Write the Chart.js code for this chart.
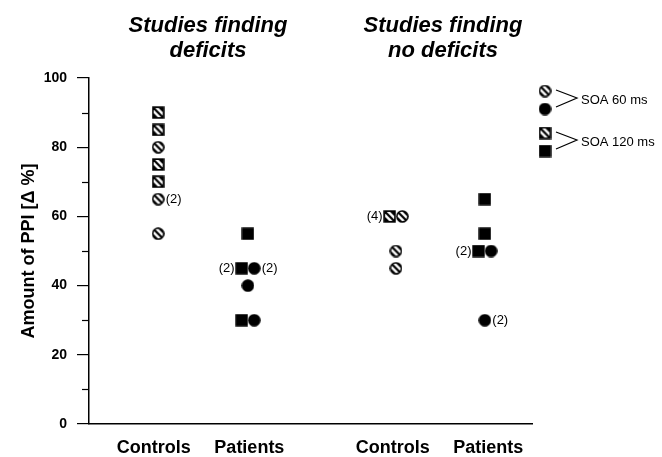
<!DOCTYPE html>
<html><head><meta charset="utf-8">
<script src="https://cdn.jsdelivr.net/npm/chart.js@4.4.1/dist/chart.umd.min.js"></script>
<style>html,body{margin:0;padding:0;background:#fff;} canvas{display:block;}</style>
</head><body>
<canvas id="c" width="662" height="457"></canvas>
<script>
// ---------- data ----------
const categories = ['Controls', 'Patients', 'Controls', 'Patients'];
const categoryX = [1, 2, 3.5, 4.5];
const panelTitles = [['Studies finding', 'deficits'], ['Studies finding', 'no deficits']];
const yTickValues = [0, 20, 40, 60, 80, 100];
const yMinorTicks = [10, 30, 50, 70, 90];
const legendLabels = ['SOA 60 ms', 'SOA 120 ms'];
const yAxisTitle = 'Amount of PPI [\u0394 %]';

// Studies finding deficits (values in Δ %, N = number of studies)
const defCtrl60 = [80, 65, 55];
const defCtrl60N = [1, 2, 1];
const defCtrl120 = [90, 85, 75, 70];
const defCtrl120N = [1, 1, 1, 1];
const defPat60 = [45, 40, 30];
const defPat60N = [2, 1, 1];
const defPat120 = [55, 45, 30];
const defPat120N = [1, 2, 1];

// Studies finding no deficits
const noCtrl60 = [60, 50, 45];
const noCtrl60N = [1, 1, 1];
const noCtrl120 = [60];
const noCtrl120N = [4];
const noPat60 = [50, 30];
const noPat60N = [1, 2];
const noPat120 = [65, 55, 50];
const noPat120N = [1, 1, 2];

// ---------- layout constants ----------
const columnShift = [0.045, -0.015, 0.035, -0.035];
const pairShift = 0.066;
const titleCenters = [1.567, 4.027];
const FONT = "'Liberation Sans', Arial, Helvetica, sans-serif";

function pts(group, values, counts, isSquare, otherValues) {
  return values.map((v, i) => {
    const paired = otherValues.includes(v);
    const x = categoryX[group] + columnShift[group] + (paired ? (isSquare ? -pairShift : pairShift) : 0);
    return { x: x, y: v, n: counts[i] };
  });
}

function makeMarker(shape, hatched, size) {
  const c = document.createElement('canvas');
  c.width = size; c.height = size;
  const g = c.getContext('2d');
  const h = size / 2;
  function path(inset) {
    g.beginPath();
    if (shape === 'circle') g.arc(h, h, h - 0.2 - inset, 0, Math.PI * 2);
    else g.rect(0.3 + inset, 0.3 + inset, size - 0.6 - 2 * inset, size - 0.6 - 2 * inset);
  }
  g.fillStyle = '#000';
  path(0); g.fill();
  if (hatched) {
    g.save();
    path(1.6); g.clip();
    g.strokeStyle = '#fff';
    g.lineWidth = 2.4;
    [-3.3, 3.3].forEach(cOff => {
      g.beginPath();
      g.moveTo(cOff - 2, -2);
      g.lineTo(cOff + size + 2, size + 2);
      g.stroke();
    });
    g.restore();
  }
  return c;
}

const mHatchCircle = makeMarker('circle', true, 13);
const mHatchSquare = makeMarker('square', true, 13);
const mCircle = makeMarker('circle', false, 13);
const mSquare = makeMarker('square', false, 13);

const datasets = [
  { label: 'Controls SOA 60 ms', square: false, pointStyle: mHatchCircle,
    data: pts(0, defCtrl60, defCtrl60N, false, defCtrl120).concat(pts(2, noCtrl60, noCtrl60N, false, noCtrl120)) },
  { label: 'Controls SOA 120 ms', square: true, pointStyle: mHatchSquare,
    data: pts(0, defCtrl120, defCtrl120N, true, defCtrl60).concat(pts(2, noCtrl120, noCtrl120N, true, noCtrl60)) },
  { label: 'Patients SOA 60 ms', square: false, pointStyle: mCircle,
    data: pts(1, defPat60, defPat60N, false, defPat120).concat(pts(3, noPat60, noPat60N, false, noPat120)) },
  { label: 'Patients SOA 120 ms', square: true, pointStyle: mSquare,
    data: pts(1, defPat120, defPat120N, true, defPat60).concat(pts(3, noPat120, noPat120N, true, noPat60)) }
].map(d => Object.assign(d, { pointRadius: 6.5, pointHoverRadius: 6.5, showLine: false }));

const decor = {
  id: 'decor',
  beforeDraw(chart) {
    const ctx = chart.ctx;
    ctx.save();
    ctx.fillStyle = '#fff';
    ctx.fillRect(0, 0, chart.width, chart.height);
    ctx.restore();
  },
  afterDraw(chart) {
    const ctx = chart.ctx;
    const xs = chart.scales.x, ys = chart.scales.y;
    ctx.save();
    // minor ticks
    ctx.strokeStyle = '#000';
    ctx.lineWidth = 1.2;
    yMinorTicks.forEach(v => {
      const y = Math.round(ys.getPixelForValue(v)) + 0.5;
      ctx.beginPath();
      ctx.moveTo(xs.left - 7, y);
      ctx.lineTo(xs.left, y);
      ctx.stroke();
    });
    // panel titles
    ctx.fillStyle = '#000';
    ctx.textAlign = 'center';
    ctx.textBaseline = 'alphabetic';
    ctx.font = 'italic bold 22px ' + FONT;
    panelTitles.forEach((lines, i) => {
      const x = xs.getPixelForValue(titleCenters[i]);
      lines.forEach((t, j) => ctx.fillText(t, x, 32 + j * 25));
    });
    // count labels
    ctx.font = '13px ' + FONT;
    ctx.textBaseline = 'middle';
    chart.data.datasets.forEach((ds, di) => {
      const meta = chart.getDatasetMeta(di);
      meta.data.forEach((el, i) => {
        const n = ds.data[i].n;
        if (n > 1) {
          if (ds.square) { ctx.textAlign = 'right'; ctx.fillText('(' + n + ')', el.x - 7, el.y + 0.5); }
          else { ctx.textAlign = 'left'; ctx.fillText('(' + n + ')', el.x + 7.5, el.y + 0.5); }
        }
      });
    });
    // legend
    const lx = 545;
    const rows = [
      { top: mHatchCircle, bottom: mCircle, y1: 91, y2: 109, tip: 98, text: 104 },
      { top: mHatchSquare, bottom: mSquare, y1: 133, y2: 151, tip: 140, text: 146 }
    ];
    ctx.font = '13px ' + FONT;
    ctx.textAlign = 'left';
    ctx.textBaseline = 'alphabetic';
    ctx.lineWidth = 1.2;
    rows.forEach((r, i) => {
      ctx.drawImage(r.top, lx - 6.5, r.y1 - 6.5);
      ctx.drawImage(r.bottom, lx - 6.5, r.y2 - 6.5);
      ctx.beginPath();
      ctx.moveTo(556, r.tip - 8);
      ctx.lineTo(577, r.tip);
      ctx.lineTo(556, r.tip + 9);
      ctx.stroke();
      ctx.fillText(legendLabels[i], 581, r.text);
    });
    ctx.restore();
  }
};

Chart.defaults.font.family = FONT;
Chart.defaults.color = '#000';

new Chart(document.getElementById('c'), {
  type: 'scatter',
  data: { datasets: datasets },
  plugins: [decor],
  options: {
    responsive: false,
    animation: false,
    devicePixelRatio: 1,
    layout: { padding: { left: 18, top: 78, right: 130, bottom: 0 } },
    plugins: { legend: { display: false }, tooltip: { enabled: false } },
    scales: {
      x: {
        type: 'linear', min: 0.321, max: 4.959,
        afterBuildTicks: s => { s.ticks = categoryX.map(v => ({ value: v })); },
        afterFit: s => { s.height = 33; },
        ticks: {
          autoSkip: false, maxRotation: 0, padding: 13, color: '#000',
          font: { size: 18, weight: 'bold' },
          callback: v => { const i = categoryX.indexOf(v); return i >= 0 ? categories[i] : ''; }
        },
        grid: { display: false, drawTicks: false },
        border: { display: true, color: '#000', width: 1.5 }
      },
      y: {
        min: 0, max: 100,
        afterBuildTicks: s => { s.ticks = yTickValues.map(v => ({ value: v })); },
        afterFit: s => { s.width = 71; },
        ticks: { padding: 10, color: '#000', font: { size: 14, weight: 'bold' } },
        grid: { display: true, drawOnChartArea: false, drawTicks: true, tickLength: 12, color: '#000', lineWidth: 1.2 },
        border: { display: true, color: '#000', width: 1.5 },
        title: { display: true, text: yAxisTitle, color: '#000', font: { size: 18, weight: 'bold' }, padding: { top: 0, bottom: 0 } }
      }
    }
  }
});
</script>
</body></html>
